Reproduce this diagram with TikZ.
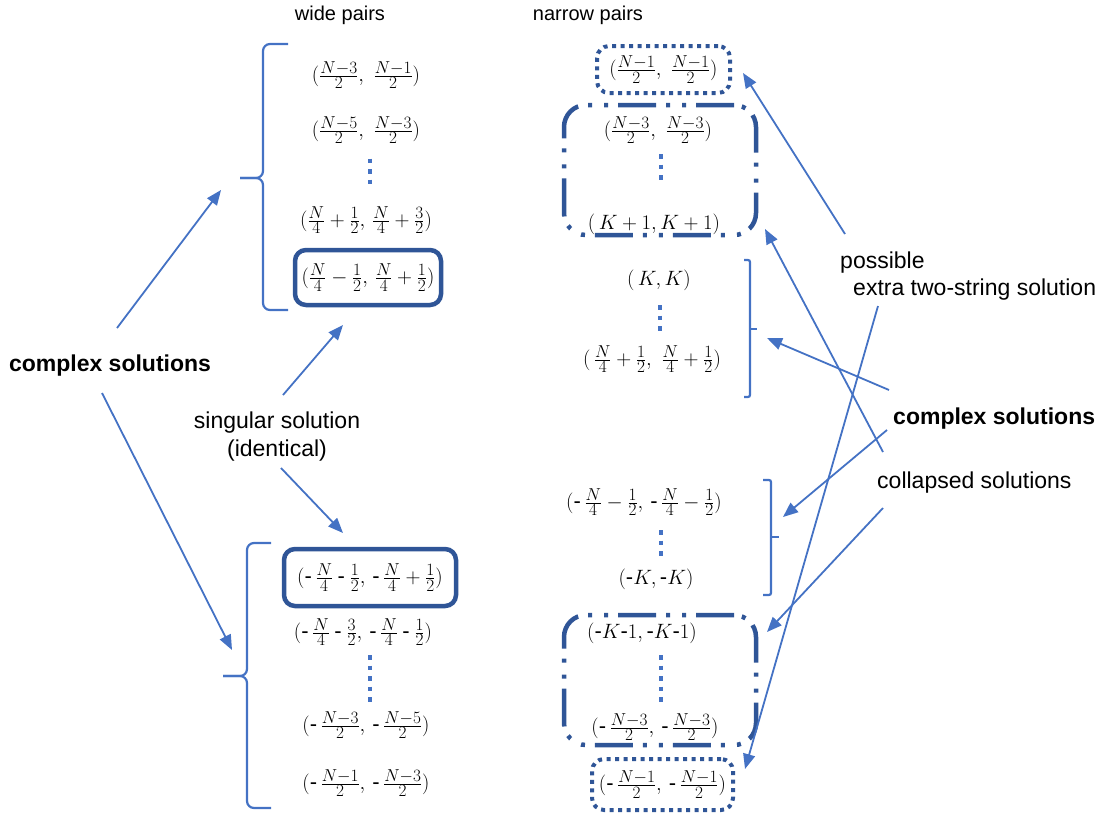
\documentclass[tikz,border=0pt]{standalone}
\usepackage{amsmath}
\usepackage{fontspec}
\setmainfont{Liberation Sans}
\usetikzlibrary{arrows.meta}
\DeclareMathSizes{22}{22}{16.5}{12}
\definecolor{lb}{HTML}{4472C4}
\definecolor{db}{HTML}{2F5597}
\newcommand{\myneg}{\mathord{\text{-}}}
\newcommand{\mysub}{\mathbin{\text{-}}}
\begin{document}
\begin{tikzpicture}[x=1pt,y=-1pt,
  lbl/.style={font=\fontsize{23}{28}\selectfont, inner sep=0pt, anchor=base},
  blbl/.style={font=\bfseries\fontsize{23}{28}\selectfont, inner sep=0pt, anchor=base},
  hdr/.style={font=\fontsize{20}{24}\selectfont, inner sep=0pt, anchor=base},
  mth/.style={font=\fontsize{22}{26}\selectfont, inner sep=0pt},
  arr/.style={draw=lb, line width=1.8pt, -{Triangle[length=15pt,width=12pt,fill=lb]}},
  brc/.style={draw=lb, line width=2.2pt, rounded corners=7pt},
  vdots/.style={draw=lb, line width=4.5pt, dash pattern=on 4.5pt off 6pt},
  solidbox/.style={mth, draw=db, line width=4.5pt, rounded corners=11pt},
  dotbox/.style={mth, draw=db, line width=4pt, rounded corners=12pt, dash pattern=on 4pt off 4.5pt},
  ddbox/.style={draw=db, line width=4.5pt, rounded corners=22pt, inner sep=0pt,
    dash pattern=on 38pt off 10pt on 4pt off 12pt on 4pt off 10pt},
]
\useasboundingbox (0,0) rectangle (1102,819);

% headers
\node[hdr] (hw) at (340,20) {wide pairs};
\node[hdr] (hn) at (588,20) {narrow pairs};

% left column: wide pairs
\node[mth] (L1) at (366,75) {$(\tfrac{N-3}{2},\ \tfrac{N-1}{2})$};
\node[mth] (L2) at (366,130) {$(\tfrac{N-5}{2},\ \tfrac{N-3}{2})$};
\draw[vdots] (370,158.5) -- (370,185.5);
\node[mth] (L3) at (366,220) {$(\tfrac{N}{4}+\tfrac{1}{2},\, \tfrac{N}{4}+\tfrac{3}{2})$};
\node[solidbox, minimum width=146pt, minimum height=55pt, inner sep=0pt] (L4) at (368,277.5)
  {$(\tfrac{N}{4}-\tfrac{1}{2},\, \tfrac{N}{4}+\tfrac{1}{2})$};

\node[solidbox, minimum width=172pt, minimum height=57pt, inner sep=0pt] (L5) at (370,577.5)
  {$(\myneg\,\tfrac{N}{4}\mysub\tfrac{1}{2},\, \myneg\,\tfrac{N}{4}+\tfrac{1}{2})$};
\node[mth] (L6) at (363,632) {$(\myneg\,\tfrac{N}{4}\mysub\tfrac{3}{2},\, \myneg\,\tfrac{N}{4}\mysub\tfrac{1}{2})$};
\draw[vdots] (370,655) -- (370,702);
\node[mth] (L7) at (366,725) {$(\myneg\,\tfrac{N-3}{2},\, \myneg\,\tfrac{N-5}{2})$};
\node[mth] (L8) at (366,783) {$(\myneg\,\tfrac{N-1}{2},\, \myneg\,\tfrac{N-3}{2})$};

% left braces
\draw[brc] (288,44) -- (263,44) -- (263,178) -- (240,178);
\draw[brc] (240,178) -- (263,178) -- (263,310) -- (288,310);
\draw[brc] (271,543) -- (247,543) -- (247,676) -- (223,676);
\draw[brc] (223,676) -- (247,676) -- (247,808) -- (271,808);

% right column: narrow pairs
\node[dotbox, minimum width=133pt, minimum height=47pt, inner sep=0pt] (R1) at (663.5,69.5)
  {$(\tfrac{N-1}{2},\ \tfrac{N-1}{2})$};
\node[ddbox, minimum width=192pt, minimum height=130pt] (D1) at (660,170) {};
\node[mth] (R2) at (658,130) {$(\tfrac{N-3}{2},\ \tfrac{N-3}{2})$};
\draw[vdots] (661,154) -- (661,185);
\node[mth] (R3) at (654,224) {$(\,K+1, K+1)$};
\node[mth] (R4) at (659,280) {$(\,K, K)$};
\draw[vdots] (660,305) -- (660,333);
\node[mth] (R5) at (652,359) {$(\,\tfrac{N}{4}+\tfrac{1}{2},\ \tfrac{N}{4}+\tfrac{1}{2})$};
\node[mth] (R6) at (644,502) {$(\myneg\,\tfrac{N}{4}-\tfrac{1}{2},\, \myneg\,\tfrac{N}{4}-\tfrac{1}{2})$};
\draw[vdots] (661,530) -- (661,558);
\node[mth] (R7) at (656,579) {$(\myneg K, \myneg K)$};
\node[ddbox, minimum width=192pt, minimum height=130pt] (D2) at (660,680) {};
\node[mth] (R8) at (642,633) {$(\myneg K\myneg 1, \myneg K\myneg 1)$};
\draw[vdots] (661,655) -- (661,702);
\node[mth] (R9) at (655,727) {$(\myneg\,\tfrac{N-3}{2},\, \myneg\,\tfrac{N-3}{2})$};
\node[dotbox, minimum width=141pt, minimum height=51pt, inner sep=0pt] (R10) at (662.5,784.5)
  {$(\myneg\,\tfrac{N-1}{2},\, \myneg\,\tfrac{N-1}{2})$};

% right brackets
\draw[brc, rounded corners=2pt] (744,260) -- (750,260) -- (750,397) -- (744,397);
\draw[brc] (750,329) -- (757,329);
\draw[brc, rounded corners=2pt] (763,480) -- (771,480) -- (771,595) -- (763,595);
\draw[brc] (771,537) -- (779,537);

% labels
\node[blbl] (csl) at (110,371) {complex solutions};
\node[lbl, align=center, anchor=center] (sing) at (277,437) {singular solution\\(identical)};
\node[lbl, anchor=base west] (poss) at (840,268) {possible};
\node[lbl, anchor=base west] (extra) at (853,295) {extra two-string solution};
\node[blbl, anchor=base west] (csr) at (893,424) {complex solutions};
\node[lbl, anchor=base west] (coll) at (877,488) {collapsed solutions};

% arrow endpoints
\coordinate (a1s) at (117,328); \coordinate (a1e) at (221,190);
\coordinate (a2s) at (102,393); \coordinate (a2e) at (232,650);
\coordinate (a3s) at (283,395); \coordinate (a3e) at (343,325);
\coordinate (a4s) at (281,468); \coordinate (a4e) at (343,533);
\coordinate (b1s) at (845,234); \coordinate (b1e) at (743,73);
\coordinate (b2s) at (878,306); \coordinate (b2e) at (745,769);
\coordinate (b3s) at (889,390); \coordinate (b3e) at (767,338);
\coordinate (b4s) at (887,430); \coordinate (b4e) at (783,517);
\coordinate (b5s) at (883,452); \coordinate (b5e) at (765,229);
\coordinate (b6s) at (883,508); \coordinate (b6e) at (767,632);

\draw[arr] (a1s) -- (a1e);
\draw[arr] (a2s) -- (a2e);
\draw[arr] (a3s) -- (a3e);
\draw[arr] (a4s) -- (a4e);
\draw[arr] (b1s) -- (b1e);
\draw[arr] (b2s) -- (b2e);
\draw[arr] (b3s) -- (b3e);
\draw[arr] (b4s) -- (b4e);
\draw[arr] (b5s) -- (b5e);
\draw[arr] (b6s) -- (b6e);
\end{tikzpicture}
\end{document}
